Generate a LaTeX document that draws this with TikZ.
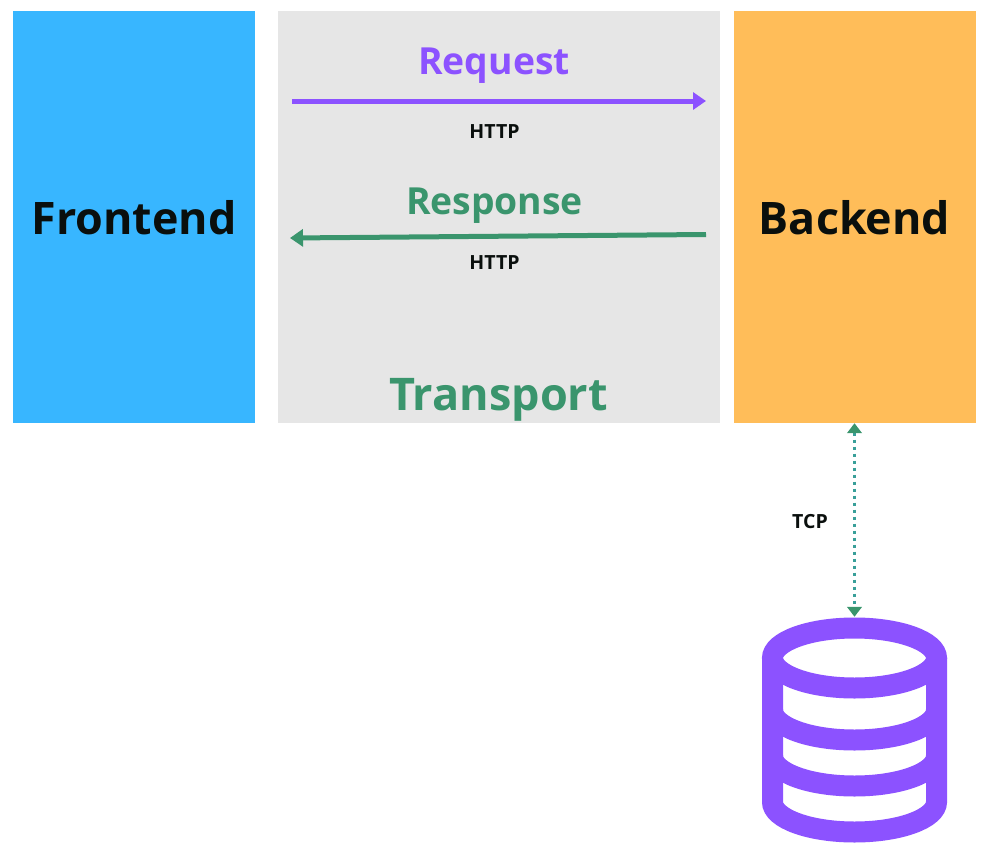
\documentclass[tikz,border=0pt]{standalone}
\usepackage{fontspec}
\setmainfont{Open Sans}
\usetikzlibrary{arrows.meta}
\definecolor{cblue}{HTML}{38B6FF}
\definecolor{corange}{HTML}{FFBD59}
\definecolor{cgray}{HTML}{E6E6E6}
\definecolor{cpurple}{HTML}{8C52FF}
\definecolor{cgreen}{HTML}{3A956D}
\definecolor{cink}{HTML}{0A0F0D}
\tikzset{
  x=1pt,y=-1pt,
  panel/.style={inner sep=0pt,minimum width=242pt,minimum height=412pt,font=\bfseries\fontsize{44.8}{45}\selectfont,text=cink},
  small/.style={inner sep=0pt,font=\bfseries\fontsize{19.5}{20}\selectfont,text=cink},
  title/.style={inner sep=0pt,font=\bfseries\fontsize{37.3}{38}\selectfont},
  flow/.style={line width=5pt,-{Triangle[length=13pt,width=17pt]}},
  dbline/.style={cpurple,line width=21pt,line cap=butt}
}
\begin{document}
\begin{tikzpicture}
\useasboundingbox (0,0) rectangle (986,854);
\node[panel,fill=cblue] (frontend) at (134,217) {};
\node[panel,fill=cgray,minimum width=442pt] (transport) at (499,217) {};
\node[panel,fill=corange] (backend) at (854.5,217) {};
\node[panel,minimum width=0pt,minimum height=0pt] (frontendlabel) at (134,218) {Frontend};
\node[panel,minimum width=0pt,minimum height=0pt] (backendlabel) at (854.5,218) {Backend};
\node[title,text=cpurple] (request) at (494,66) {Request};
\node[title,text=cgreen] (response) at (494.5,206) {Response};
\node[title,text=cgreen,font=\bfseries\fontsize{45}{45}\selectfont] (transportlabel) at (498.5,400) {Transport};
\node[small] (http1) at (494.5,132) {HTTP};
\node[small] (http2) at (494.5,263) {HTTP};
\node[small] (tcp) at (810,522) {TCP};
\coordinate (reqa) at (292,101);
\coordinate (reqb) at (706,101);
\coordinate (resa) at (706,234.5);
\coordinate (resb) at (290,238);
\draw[flow,cpurple] (reqa) -- (reqb);
\draw[flow,cgreen] (resa) -- (resb);
% database
\draw[dbline] (772.5,658) -- (772.5,802) arc[start angle=180,end angle=0,x radius=82,y radius=30] -- (936.5,658);
\draw[dbline] (854.5,658) ellipse[x radius=82,y radius=30];
\draw[dbline] (772.5,710) arc[start angle=180,end angle=0,x radius=82,y radius=30];
\draw[dbline] (772.5,756) arc[start angle=180,end angle=0,x radius=82,y radius=30];
\node[inner sep=0pt,minimum width=185pt,minimum height=226pt] (db) at (854.5,730) {};
\draw[line width=3.5pt,cgreen!70!cblue,dash pattern=on 3.5pt off 3.5pt,
  {Triangle[length=10pt,width=14.5pt,color=cgreen]}-{Triangle[length=10pt,width=14.5pt,color=cgreen]}]
  (backend.south) -- (db.north);
\end{tikzpicture}
\end{document}
